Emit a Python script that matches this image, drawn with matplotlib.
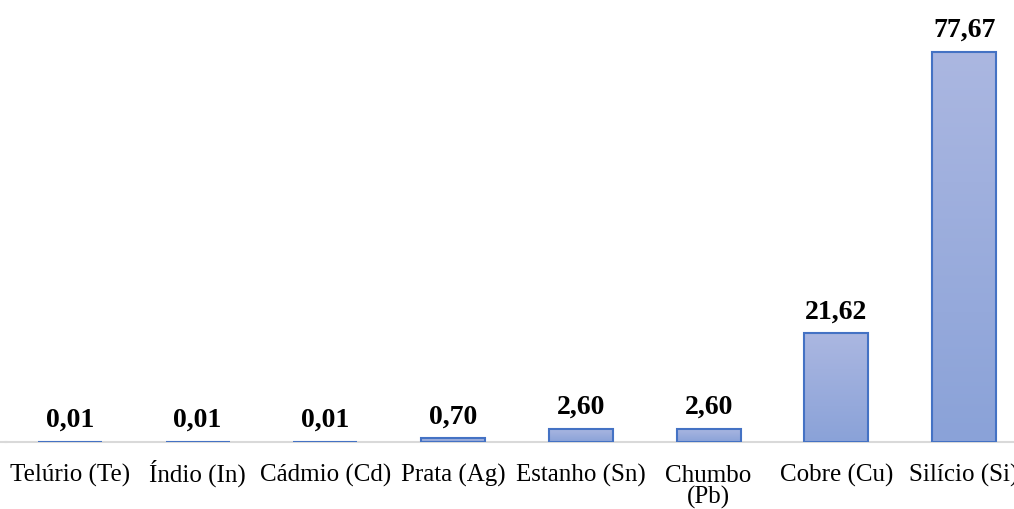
import matplotlib
matplotlib.use("Agg")
import matplotlib.pyplot as plt
import numpy as np
from matplotlib.colors import LinearSegmentedColormap

categories = ["Telúrio (Te)", "Índio (In)", "Cádmio (Cd)", "Prata (Ag)",
              "Estanho (Sn)", "Chumbo\n(Pb)", "Cobre (Cu)", "Silício (Si)"]
values = [0.01, 0.01, 0.01, 0.70, 2.60, 2.60, 21.62, 77.67]
labels = ["0,01", "0,01", "0,01", "0,70", "2,60", "2,60", "21,62", "77,67"]

plt.rcParams['font.family'] = ['Liberation Serif', 'DejaVu Serif']

W, H = 1014, 510
PT = 72 / 100  # points per pixel
fig = plt.figure(figsize=(W / 100, H / 100), dpi=100)
left_px, right_px = 6, 1028
bottom_px, top_px = 443, 10
ax = fig.add_axes([left_px / W, 1 - bottom_px / H, (right_px - left_px) / W, (bottom_px - top_px) / H])

x = np.arange(len(categories))
width = 0.5
ymax = 77.67 * (bottom_px - top_px) / (443 - 53)

cmap = LinearSegmentedColormap.from_list("g", ["#8AA2D8", "#ABB7E1"])
grad = np.linspace(0, 1, 256).reshape(-1, 1)
bars = ax.bar(x, values, width=width, color="none", edgecolor="#4472C4", linewidth=1.5, zorder=3)
for b in bars:
    x0, y0 = b.get_x(), b.get_y()
    w, h = b.get_width(), b.get_height()
    im = ax.imshow(grad, extent=[x0, x0 + w, y0, y0 + h], origin="lower", aspect="auto",
                   cmap=cmap, zorder=2)
    im.set_clip_path(b)

ax.set_xlim(-0.5, len(categories) - 0.5)
ax.set_ylim(0, ymax)

for xi, v, lab in zip(x, values, labels):
    ax.annotate(lab, (xi, v), xytext=(0, 16 * PT), textcoords="offset points",
                ha="center", va="baseline", fontsize=20, fontweight="bold", color="black")

for xi, cat in zip(x, categories):
    extra = (cat.count("\n")) * 22
    ax.annotate(cat, (xi, 0), xycoords=("data", "axes fraction"),
                xytext=(0, -(39 + extra) * PT), textcoords="offset points",
                ha="center", va="baseline", fontsize=18, color="black",
                linespacing=0.95, annotation_clip=False)

for s in ["top", "right", "left"]:
    ax.spines[s].set_visible(False)
ax.spines["bottom"].set_color("#D9D9D9")
ax.spines["bottom"].set_linewidth(1.5)
ax.set_yticks([])
ax.set_xticks([])
fig.add_artist(plt.Line2D([0, left_px / W], [1 - bottom_px / H] * 2, transform=fig.transFigure,
                          color="#D9D9D9", linewidth=1.5))

fig.savefig("out.png", dpi=100)
